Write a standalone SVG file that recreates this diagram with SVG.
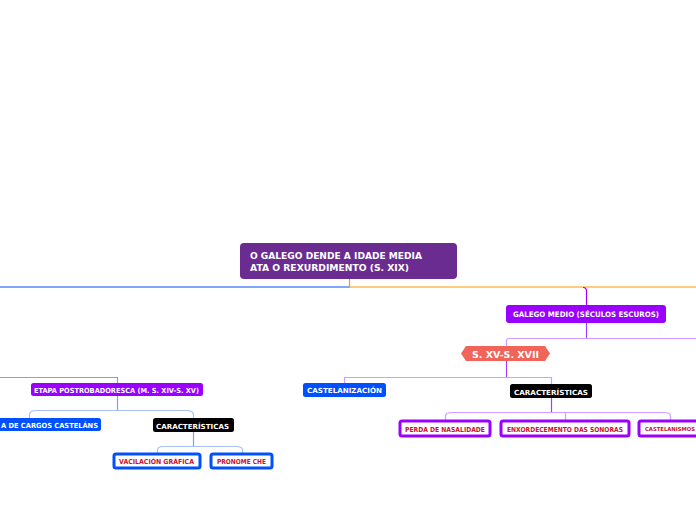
<svg xmlns="http://www.w3.org/2000/svg" width="696" height="520" viewBox="0 0 696 520">
<style>
.t{font-family:"DejaVu Sans",Verdana,sans-serif;font-weight:bold;fill:#fff}
.r{font-family:"DejaVu Sans",Verdana,sans-serif;font-weight:bold;fill:#c8102e}
.c{fill:none;stroke-width:1.2}
</style>
<rect width="696" height="520" fill="#fff"/>
<g id="connectors">
<path class="c" d="M0 287H350" stroke="#0050ff" stroke-width="2"/>
<path class="c" d="M349.5 279V287H696" stroke="#ff9a00" stroke-width="2"/>
<path class="c" d="M583 287.5Q586.5 287.5 586.5 291V305" stroke="#9900ff"/>
<path class="c" d="M586.5 323V338" stroke="#a040ff"/>
<path class="c" d="M506.5 346V341Q506.5 338.5 509 338.5H696" stroke="#d49cff"/>
<path class="c" d="M506.5 361V377" stroke="#a040ff"/>
<path class="c" d="M344.5 383V377.5H551.5V384" stroke="#d49cff"/>
<path class="c" d="M551.5 398V412" stroke="#a040ff"/>
<path class="c" d="M445.5 420V416Q445.5 412.5 452 412.5H663Q670.5 412.5 670.5 416V420M565.5 412.5V420" stroke="#d49cff"/>
<path class="c" d="M0 377.5H117.5V384" stroke="#7fa0f0"/>
<path class="c" d="M117.5 396V410" stroke="#7fa0f0"/>
<path class="c" d="M29.5 418V415Q29.5 410.5 36 410.5H186Q193.5 410.5 193.5 415V418" stroke="#a8c0f4"/>
<path class="c" d="M193.5 432V446" stroke="#7fa0f0"/>
<path class="c" d="M157.5 453V450Q157.5 446.5 163 446.5H236Q242.5 446.5 242.5 450V453" stroke="#a8c0f4"/>
</g>
<g id="root">
<rect x="240" y="243" width="217" height="36" rx="4" fill="#6a2c91"/>
<text class="t" x="250" y="259" font-size="9" textLength="172" lengthAdjust="spacingAndGlyphs">O GALEGO DENDE A IDADE MEDIA</text>
<text class="t" x="250" y="270.5" font-size="9" textLength="159" lengthAdjust="spacingAndGlyphs">ATA O REXURDIMENTO (S. XIX)</text>
</g>
<g id="galego-medio">
<rect x="506" y="305" width="160" height="18" rx="3" fill="#9900ff"/>
<text class="t" x="513" y="317" font-size="7.5" textLength="146" lengthAdjust="spacingAndGlyphs">GALEGO MEDIO (SÉCULOS ESCUROS)</text>
</g>
<g id="sxv">
<polygon points="461,353.5 466,346 545,346 550,353.5 545,361 466,361" fill="#f0645a"/>
<text class="t" x="472" y="357.5" font-size="9.5" textLength="67" lengthAdjust="spacingAndGlyphs">S. XV-S. XVII</text>
</g>
<g id="castelanizacion">
<rect x="303" y="383" width="83" height="14" rx="2.5" fill="#0050ff"/>
<text class="t" x="307" y="393" font-size="7" textLength="75" lengthAdjust="spacingAndGlyphs">CASTELANIZACIÓN</text>
</g>
<g id="caracteristicas-r">
<rect x="510" y="384" width="82" height="14" rx="2.5" fill="#000"/>
<text class="t" x="514" y="394.5" font-size="7" textLength="74" lengthAdjust="spacingAndGlyphs">CARACTERÍSTICAS</text>
</g>
<g id="perda">
<rect x="400" y="421" width="90" height="15" rx="2" fill="#fff" stroke="#9900ff" stroke-width="3"/>
<text class="r" x="405" y="431.5" font-size="6.8" textLength="80" lengthAdjust="spacingAndGlyphs">PERDA DE NASALIDADE</text>
</g>
<g id="enxordecemento">
<rect x="501" y="421" width="128" height="15" rx="2" fill="#fff" stroke="#9900ff" stroke-width="3"/>
<text class="r" x="507" y="431.5" font-size="6.8" textLength="116" lengthAdjust="spacingAndGlyphs">ENXORDECEMENTO DAS SONORAS</text>
</g>
<g id="castelanismos">
<rect x="639" y="421" width="64" height="15" rx="2" fill="#fff" stroke="#9900ff" stroke-width="3"/>
<text class="r" x="645" y="431" font-size="5.4" textLength="50" lengthAdjust="spacingAndGlyphs">CASTELANISMOS</text>
</g>
<g id="etapa">
<rect x="31" y="383" width="172" height="13" rx="2.5" fill="#9900ff"/>
<text class="t" x="34" y="393" font-size="7" textLength="165" lengthAdjust="spacingAndGlyphs">ETAPA POSTROBADORESCA (M. S. XIV-S. XV)</text>
</g>
<g id="cargos">
<rect x="-43" y="418" width="144" height="13" rx="2.5" fill="#0050ff"/>
<text class="t" x="1" y="428" font-size="7" textLength="97" lengthAdjust="spacingAndGlyphs">A DE CARGOS CASTELÁNS</text>
</g>
<g id="caracteristicas-l">
<rect x="153" y="418" width="81" height="14" rx="2.5" fill="#000"/>
<text class="t" x="156" y="428.5" font-size="7" textLength="73" lengthAdjust="spacingAndGlyphs">CARACTERÍSTICAS</text>
</g>
<g id="vacilacion">
<rect x="114" y="454" width="86" height="14" rx="2" fill="#fff" stroke="#0050ff" stroke-width="3"/>
<text class="r" x="119" y="464" font-size="6.8" textLength="75" lengthAdjust="spacingAndGlyphs">VACILACIÓN GRÁFICA</text>
</g>
<g id="pronome">
<rect x="211" y="454" width="61" height="14" rx="2" fill="#fff" stroke="#0050ff" stroke-width="3"/>
<text class="r" x="217" y="464" font-size="6.8" textLength="49" lengthAdjust="spacingAndGlyphs">PRONOME CHE</text>
</g>
</svg>
